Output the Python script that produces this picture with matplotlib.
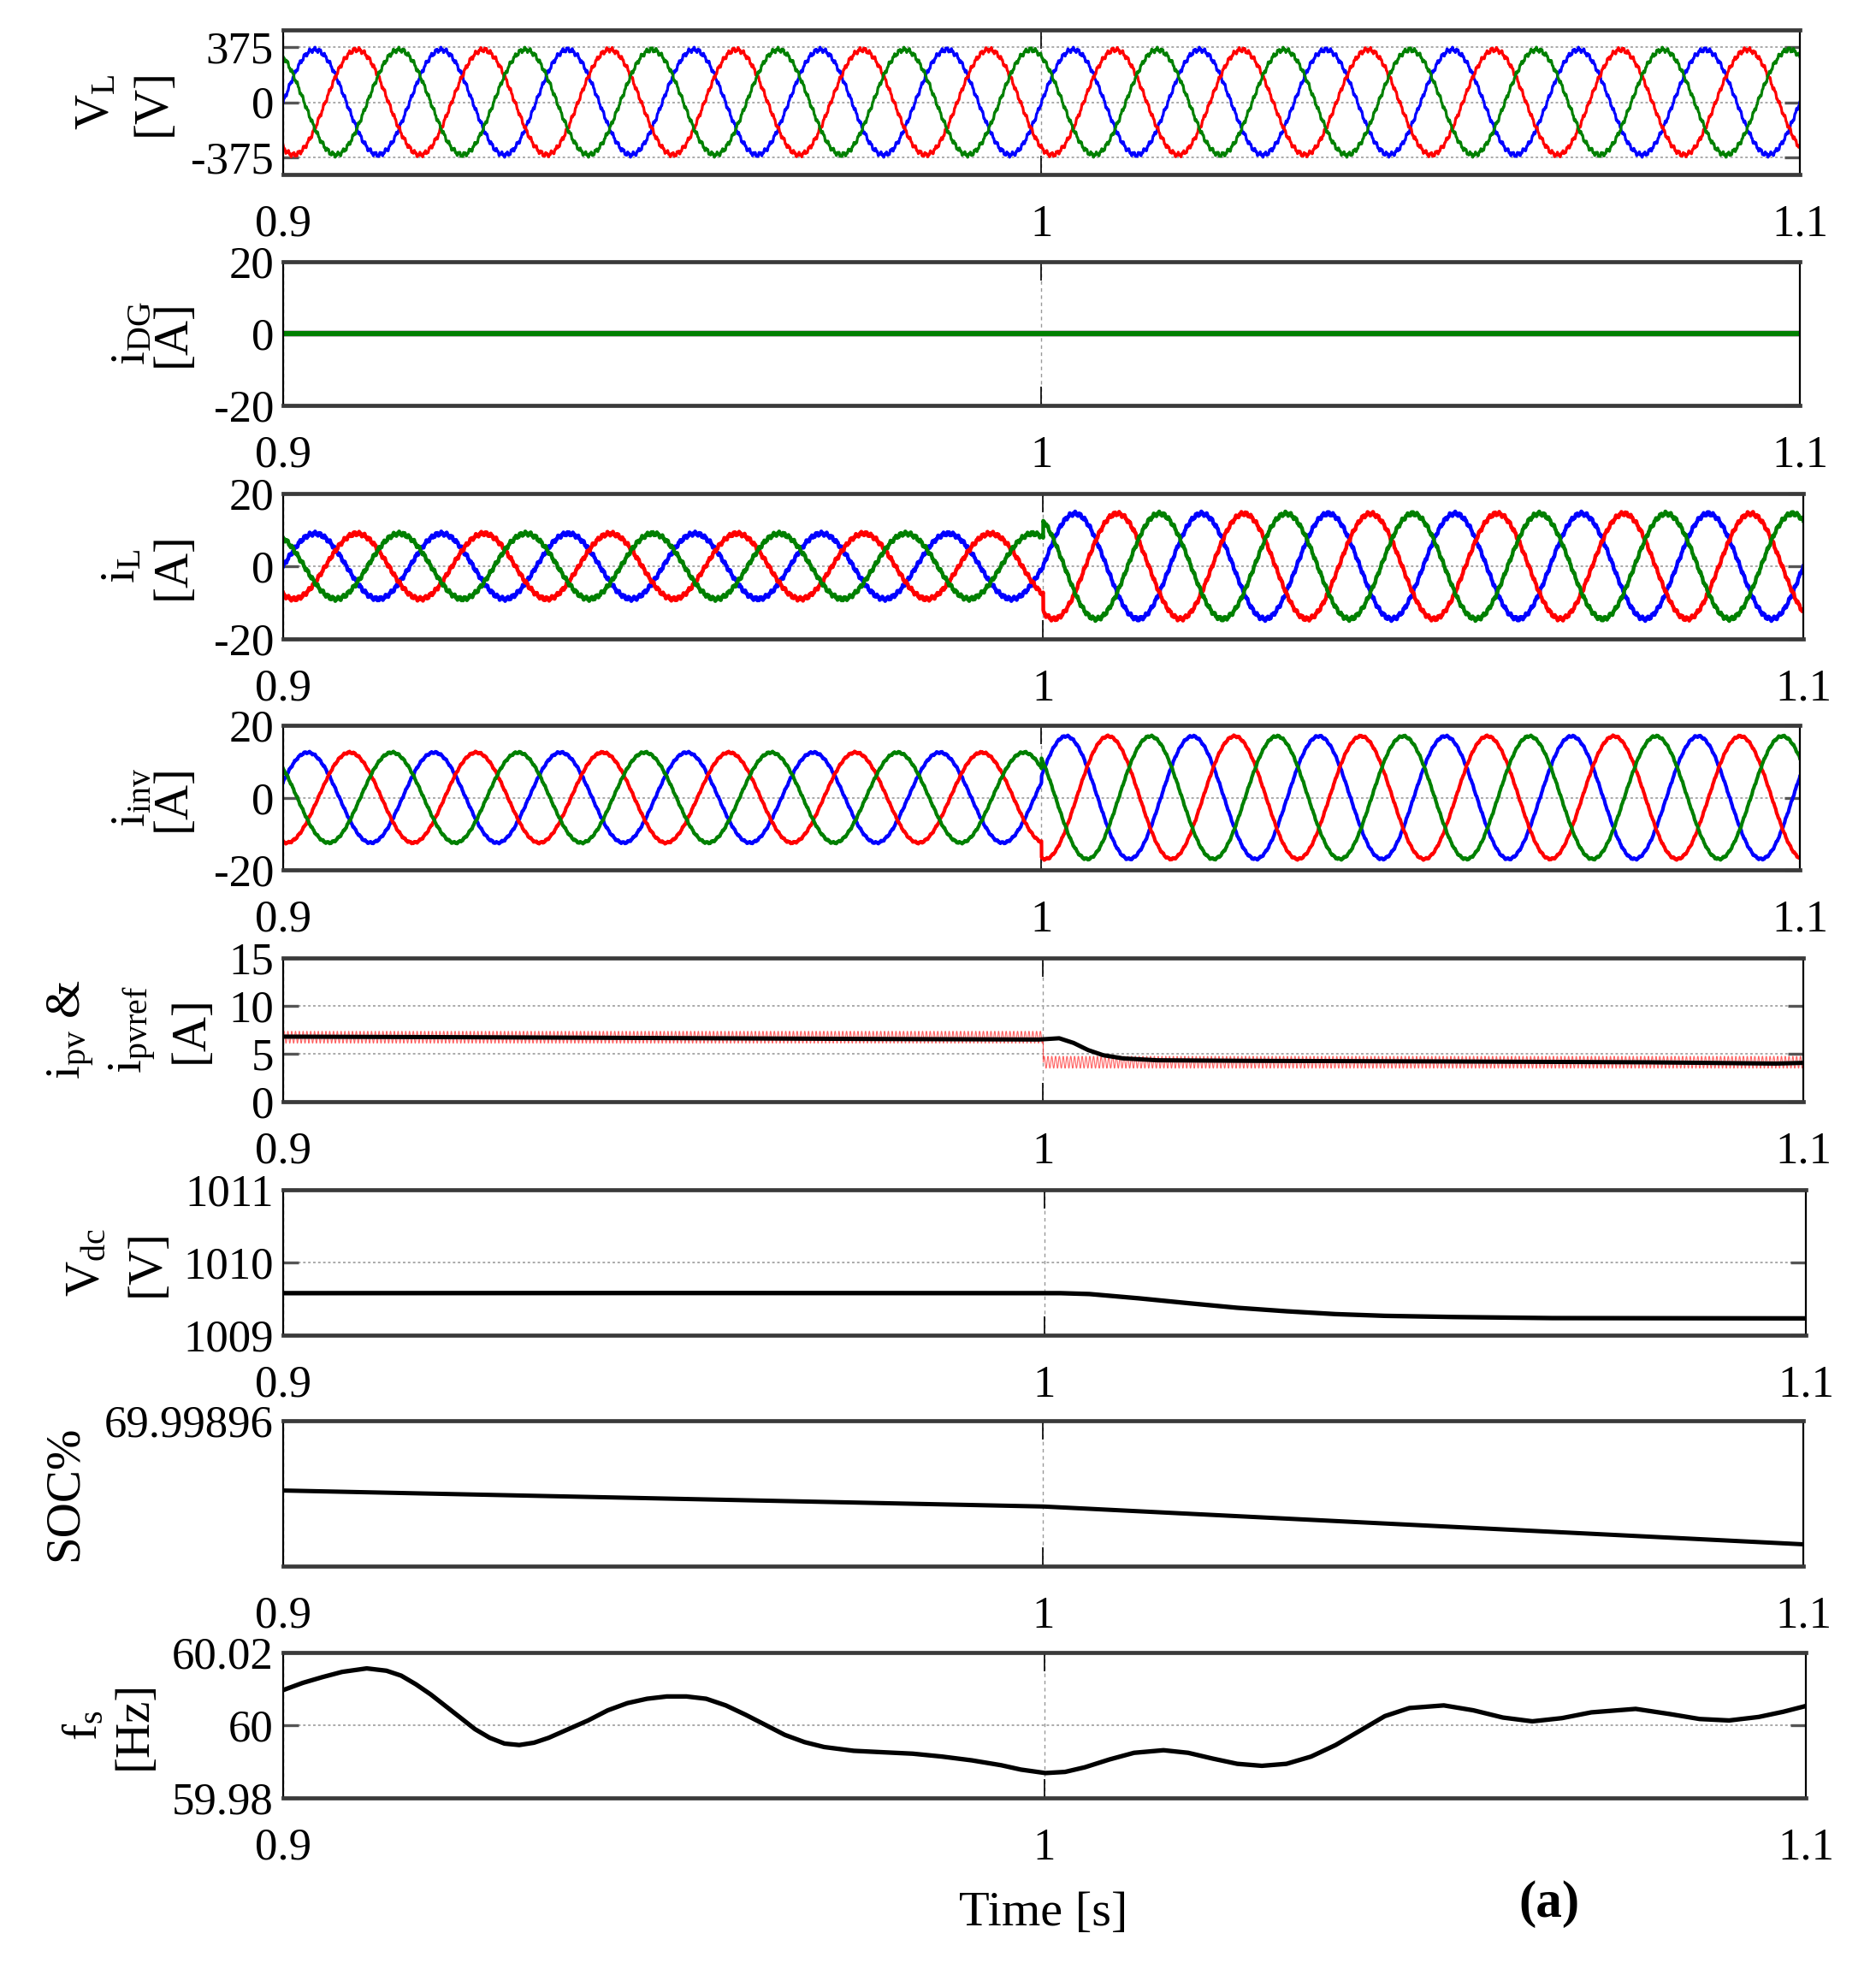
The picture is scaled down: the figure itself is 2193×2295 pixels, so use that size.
import numpy as np
import matplotlib
matplotlib.use('Agg')
import matplotlib.pyplot as plt

plt.rcParams['font.family'] = ['Liberation Serif', 'DejaVu Serif']
plt.rcParams['mathtext.fontset'] = 'custom'
plt.rcParams['mathtext.rm'] = 'Liberation Serif'
plt.rcParams['mathtext.it'] = 'Liberation Serif:italic'
plt.rcParams['mathtext.bf'] = 'Liberation Serif:bold'

# ---------------- data ----------------
t_start, t_end, t_event = 0.9, 1.1, 1.0
x_ticks = [0.9, 1.0, 1.1]
x_tick_labels = ['0.9', '1', '1.1']

grid_freq = 60.0                       # Hz
phase_colors = ['#0000FF', '#FF0000', '#008000']   # a, b, c
phase_shift_deg = [0, -120, 120]

# load voltage
vl_amp = 360.0
vl_ripple = 18.0
# DG current (zero)
idg_amp = [0.0, 0.0]
# load current (before / after the event)
il_amp = [9.0, 14.5]
il_phase_deg = 0.0
il_ripple = 0.6
# inverter current
iinv_amp = [12.5, 17.0]
iinv_phase_deg = 20.0
iinv_ripple = 0.3

# PV current reference (levels before / after) and measured PV current
ipv_ref_levels = [6.73, 4.12]
ipv_ref_ripple = 0.62
ipv_t = [0.9, 0.9245, 0.9504, 0.9762, 0.9995, 1.0021, 1.0040, 1.0059, 1.0079,
         1.0105, 1.0150, 1.0279, 1.0537, 1.0796, 1.0964, 1.1]
ipv_val = [6.79, 6.73, 6.64, 6.55, 6.49, 6.62, 6.13, 5.39, 4.85,
           4.52, 4.32, 4.26, 4.20, 4.11, 3.98, 4.05]

# DC link voltage
vdc_t = [0.9, 0.95, 1.0021, 1.0059, 1.0124, 1.0189, 1.0253, 1.0318, 1.0382,
         1.0447, 1.0537, 1.0667, 1.1]
vdc_val = [1009.578, 1009.580, 1009.578, 1009.566, 1009.507, 1009.440, 1009.377,
           1009.329, 1009.290, 1009.266, 1009.250, 1009.235, 1009.231]

# battery state of charge
soc_t = [0.9, 1.0, 1.1]
soc_val = [69.9989552, 69.9989541, 69.9989515]
soc_ticks = [69.99896]
soc_tick_labels = ['69.99896']

# system frequency
fs_t = [0.90000, 0.90258, 0.90517, 0.90775, 0.91098, 0.91357, 0.91550, 0.91744,
        0.91938, 0.92132, 0.92326, 0.92519, 0.92713, 0.92907, 0.93101, 0.93295,
        0.93488, 0.93747, 0.94005, 0.94264, 0.94522, 0.94780, 0.95039, 0.95297,
        0.95556, 0.95814, 0.96072, 0.96331, 0.96589, 0.96848, 0.97106, 0.97494,
        0.97881, 0.98269, 0.98656, 0.99044, 0.99432, 0.99690, 1.00013, 1.00271,
        1.00530, 1.00853, 1.01176, 1.01563, 1.01886, 1.02209, 1.02532, 1.02855,
        1.03178, 1.03501, 1.03824, 1.04147, 1.04470, 1.04793, 1.05245, 1.05633,
        1.06021, 1.06408, 1.06796, 1.07183, 1.07765, 1.08217, 1.08605, 1.08992,
        1.09380, 1.09703, 1.10000]
fs_val = [60.00966, 60.01165, 60.01324, 60.01467, 60.01563, 60.01499, 60.01364, 60.01125,
          60.00847, 60.00529, 60.00211, 59.99893, 59.99654, 59.99495, 59.99455, 59.99519,
          59.99654, 59.99893, 60.00131, 60.00410, 60.00608, 60.00728, 60.00791, 60.00791,
          60.00728, 60.00545, 60.00290, 60.00012, 59.99734, 59.99535, 59.99400, 59.99296,
          59.99256, 59.99217, 59.99137, 59.99034, 59.98899, 59.98779, 59.98684, 59.98716,
          59.98843, 59.99058, 59.99241, 59.99312, 59.99241, 59.99082, 59.98938, 59.98883,
          59.98938, 59.99137, 59.99455, 59.99853, 60.00250, 60.00473, 60.00545, 60.00410,
          60.00211, 60.00107, 60.00195, 60.00354, 60.00449, 60.00306, 60.00171, 60.00131,
          60.00227, 60.00370, 60.00529]

# axis settings
vl_ylim, vl_ticks, vl_labels = (-495, 495), [-375, 0, 375], ['-375', '0', '375']
i_ylim, i_ticks, i_labels = (-20, 20), [-20, 0, 20], ['-20', '0', '20']
pv_ylim, pv_ticks, pv_labels = (0, 15), [0, 5, 10, 15], ['0', '5', '10', '15']
vdc_ylim, vdc_ticks, vdc_labels = (1009, 1011), [1009, 1010, 1011], ['1009', '1010', '1011']
soc_ylim = (69.99895, 69.99896)
fs_ylim, fs_ticks, fs_labels = (59.98, 60.02), [59.98, 60.0, 60.02], ['59.98', '60', '60.02']

# ---------------- layout (pixels of the 2193 x 2295 canvas) ----------------
W, H = 2193, 2295
ax_left = 331
ax_right = [2104, 2104, 2108, 2104, 2108, 2111, 2108, 2111]
ax_top = [35, 306, 577, 848, 1120, 1391, 1661, 1932]
ax_bot = [204, 474, 747, 1017, 1288, 1561, 1831, 2102]

fig = plt.figure(figsize=(W / 100, H / 100), dpi=100)
fig.patch.set_facecolor('white')

axes = []
for i in range(8):
    ax = fig.add_axes([ax_left / W, 1 - ax_bot[i] / H,
                       (ax_right[i] - ax_left) / W, (ax_bot[i] - ax_top[i]) / H])
    axes.append(ax)

t = np.linspace(t_start, t_end, 40001)
w = 2 * np.pi * grid_freq


def ripple(k, amp):
    return amp * (0.6 * np.sin(2 * np.pi * 1500 * t + 1.3 * k) +
                  0.4 * np.sin(2 * np.pi * 4100 * t + 2.1 * k))


def three_phase(amps, phase_deg, rip):
    a = np.where(t < t_event, amps[0], amps[1])
    out = []
    for k, sh in enumerate(phase_shift_deg):
        out.append(a * np.sin(w * t + np.deg2rad(phase_deg + sh)) + ripple(k, rip))
    return out


def style(ax, ylim, yticks, ylabels, grid_y=True):
    ax.set_xlim(t_start, t_end)
    ax.set_ylim(*ylim)
    ax.set_xticks(x_ticks)
    ax.set_xticklabels(x_tick_labels)
    ax.set_yticks(yticks)
    ax.set_yticklabels(ylabels)
    ax.tick_params(axis='x', direction='in', top=True, bottom=True, length=16,
                   width=1.2, color='black', labelsize=38, pad=25)
    ax.tick_params(axis='y', direction='in', left=True, right=True, length=13,
                   width=2.4, color='#555555', labelsize=38, pad=8)
    if grid_y:
        ax.grid(True, axis='y', linestyle=(0, (1.5, 1.5)), color='#aaaaaa', lw=1.4)
    ax.grid(True, axis='x', linestyle=(0, (3, 3)), color='#999999', lw=1.0)
    ax.set_axisbelow(True)
    for s in ['top', 'bottom']:
        ax.spines[s].set_linewidth(3.4)
        ax.spines[s].set_color('#3a3a3a')
    for s in ['left', 'right']:
        ax.spines[s].set_linewidth(1.6)
        ax.spines[s].set_color('black')


# 1: load voltage
ax = axes[0]
for k, y in enumerate(three_phase([vl_amp, vl_amp], 0.0, vl_ripple)):
    ax.plot(t, y, color=phase_colors[k], lw=2.3)
style(ax, vl_ylim, vl_ticks, vl_labels)

# 2: DG current
ax = axes[1]
for k, y in enumerate(three_phase(idg_amp, 0.0, 0.0)):
    ax.plot(t, y, color=phase_colors[k], lw=4.5)
style(ax, i_ylim, i_ticks, i_labels)

# 3: load current
ax = axes[2]
for k, y in enumerate(three_phase(il_amp, il_phase_deg, il_ripple)):
    ax.plot(t, y, color=phase_colors[k], lw=3.2)
style(ax, i_ylim, i_ticks, i_labels)

# 4: inverter current
ax = axes[3]
for k, y in enumerate(three_phase(iinv_amp, iinv_phase_deg, iinv_ripple)):
    ax.plot(t, y, color=phase_colors[k], lw=3.0)
style(ax, i_ylim, i_ticks, i_labels)

# 5: PV current and reference
ax = axes[4]
ref = np.where(t < t_event, ipv_ref_levels[0], ipv_ref_levels[1]) + \
    ipv_ref_ripple * np.sin(2 * np.pi * 2000 * t)
ax.plot(t, ref, color='#ff2020', lw=0.8, alpha=0.7)
ax.plot(ipv_t, ipv_val, color='black', lw=3.6, solid_joinstyle='round')
style(ax, pv_ylim, pv_ticks, pv_labels)

# 6: DC link voltage
ax = axes[5]
ax.plot(vdc_t, vdc_val, color='black', lw=3.8, solid_joinstyle='round')
style(ax, vdc_ylim, vdc_ticks, vdc_labels)

# 7: SOC
ax = axes[6]
ax.plot(soc_t, soc_val, color='black', lw=3.6)
style(ax, soc_ylim, soc_ticks, soc_tick_labels, grid_y=False)

# 8: frequency
ax = axes[7]
ax.plot(fs_t, fs_val, color='black', lw=3.8, solid_joinstyle='round')
style(ax, fs_ylim, fs_ticks, fs_labels)

# ---------------- y labels ----------------
ylabel_specs = [
    [(r'$\mathrm{V_L}$', 77), ('[V]', 122)],
    [(r'$\mathrm{i_{DG}}$', 106), ('[A]', 138)],
    [(r'$\mathrm{i_L}$', 98), ('[A]', 138)],
    [(r'$\mathrm{i_{inv}}$', 106), ('[A]', 138)],
    [(r'$\mathrm{i_{pv}}$ &', 57), (r'$\mathrm{i_{pvref}}$', 106), ('[A]', 152)],
    [(r'$\mathrm{V_{dc}}$', 70), ('[V]', 117)],
    [('SOC%', 52)],
    [(r'$\mathrm{f_s}$', 68), ('[Hz]', 107)],
]
for i, spec in enumerate(ylabel_specs):
    yc = 1 - (ax_top[i] + ax_bot[i]) / 2 / H
    for txt, xd in spec:
        fig.text(xd / 1498, yc, txt, rotation=90, ha='center', va='center',
                 fontsize=41)

fig.text(1220 / W, 1 - 2237 / H, 'Time [s]', ha='center', va='center', fontsize=42)
fig.text(1811 / W, 1 - 2226 / H, '(a)', ha='center', va='center', fontsize=44,
         fontweight='bold')

fig.savefig('out.png', dpi=100, facecolor='white')
